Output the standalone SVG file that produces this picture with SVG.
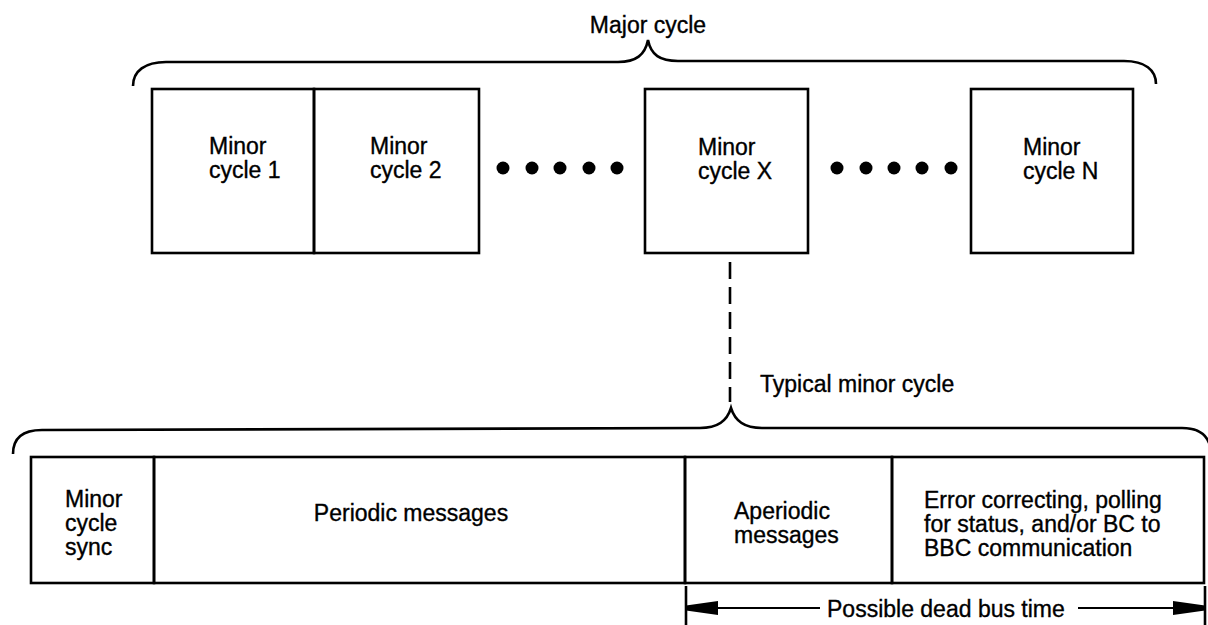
<svg xmlns="http://www.w3.org/2000/svg" width="1208" height="625" viewBox="0 0 1208 625">
<defs>
<style>
.box{fill:none;stroke:#000;stroke-width:2.6}
.ln{fill:none;stroke:#000;stroke-width:2.6}
.thin{fill:none;stroke:#000;stroke-width:2}
text{font-family:"Liberation Sans",Arial,sans-serif;font-size:23px;fill:#000;stroke:#000;stroke-width:0.35}
.dot{fill:#000}
</style>
<marker id="ah" viewBox="0 0 32 14" refX="31" refY="7" markerWidth="32" markerHeight="14" markerUnits="userSpaceOnUse" orient="auto-start-reverse">
<path d="M0,4.5 L32,0 L32,14 L0,9.5 Z" fill="#000" transform="translate(32,14) rotate(180)"/>
</marker>
</defs>
<rect width="1208" height="625" fill="#fff"/>

<g id="major-brace">
<path class="ln" d="M133,86 C133,71 145,62 166,62 L618,62 C636,62 645,55 648,40 C651,55 660,61 678,61 L1124,61 C1145,61 1156,70 1156,84"/>
<text x="648" y="33" text-anchor="middle" font-size="22">Major cycle</text>
</g>

<g id="minor1">
<rect class="box" x="152" y="89" width="162" height="164"/>
<text x="209" y="154">Minor</text>
<text x="209" y="178">cycle 1</text>
</g>
<g id="minor2">
<rect class="box" x="314" y="89" width="165" height="164"/>
<text x="370" y="154">Minor</text>
<text x="370" y="178">cycle 2</text>
</g>
<g id="dots1">
<circle class="dot" cx="503" cy="168" r="6.5"/>
<circle class="dot" cx="532" cy="168" r="6.5"/>
<circle class="dot" cx="560" cy="168" r="6.5"/>
<circle class="dot" cx="589" cy="168" r="6.5"/>
<circle class="dot" cx="617" cy="168" r="6.5"/>
</g>
<g id="minorX">
<rect class="box" x="645" y="89" width="163" height="164"/>
<text x="698" y="155">Minor</text>
<text x="698" y="179">cycle X</text>
</g>
<g id="dots2">
<circle class="dot" cx="837" cy="168" r="6.5"/>
<circle class="dot" cx="866" cy="168" r="6.5"/>
<circle class="dot" cx="894" cy="168" r="6.5"/>
<circle class="dot" cx="922" cy="168" r="6.5"/>
<circle class="dot" cx="951" cy="168" r="6.5"/>
</g>
<g id="minorN">
<rect class="box" x="971" y="89" width="162" height="164"/>
<text x="1023" y="155">Minor</text>
<text x="1023" y="179">cycle N</text>
</g>

<g id="typical-brace">
<path class="ln" d="M13,454 C13,439 22,430 42,430 L700,428 C718,428 727,421 731,408 C735,421 744,428 762,428 L1182,428 C1198,428 1207,434 1210,446"/>
<text x="760" y="392">Typical minor cycle</text>
</g>

<g id="sync">
<rect class="box" x="31" y="457" width="123" height="126"/>
<text x="65" y="507">Minor</text>
<text x="65" y="531">cycle</text>
<text x="65" y="555">sync</text>
</g>
<g id="periodic">
<rect class="box" x="154" y="457" width="531" height="126"/>
<text x="411" y="521" text-anchor="middle">Periodic messages</text>
</g>
<g id="aperiodic">
<rect class="box" x="685" y="457" width="207" height="126"/>
<text x="734" y="519">Aperiodic</text>
<text x="734" y="543">messages</text>
</g>
<g id="error">
<rect class="box" x="892" y="457" width="312" height="126"/>
<text x="924" y="508">Error correcting, polling</text>
<text x="924" y="532">for status, and/or BC to</text>
<text x="924" y="556">BBC communication</text>
</g>

<g id="connectors">
<line class="ln" x1="730" y1="262" x2="730" y2="402" stroke-dasharray="17 8"/>
<line class="ln" x1="686" y1="586" x2="686" y2="625"/>
<line class="ln" x1="1205" y1="586" x2="1205" y2="625"/>
<line class="thin" x1="820" y1="608" x2="687" y2="608" marker-end="url(#ah)"/>
<line class="thin" x1="1078" y1="608" x2="1204" y2="608" marker-end="url(#ah)"/>
<text x="827" y="617">Possible dead bus time</text>
</g>
</svg>
